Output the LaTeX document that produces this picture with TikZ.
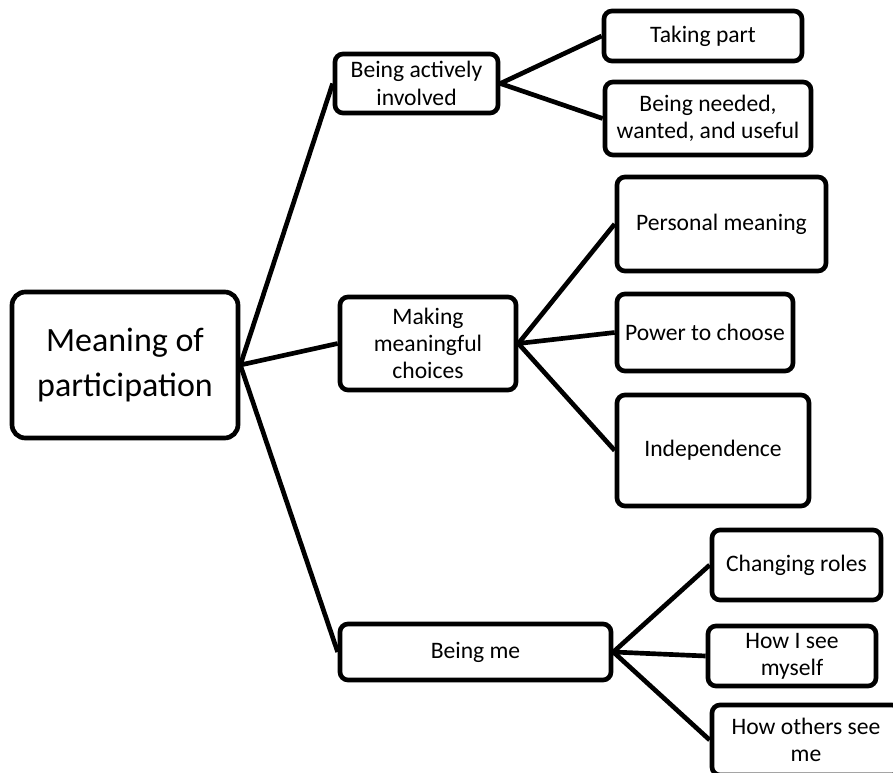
\documentclass[tikz,border=0pt]{standalone}
\usepackage{fontspec}
\setmainfont{Carlito}
\begin{document}
\begin{tikzpicture}[x=0.75pt,y=-0.75pt,
  box/.style={draw=black, line width=3.5pt, rounded corners=6pt, align=center,
    inner sep=0pt, fill=white, font=\fontsize{17.7}{20.5}\selectfont},
  rootbox/.style={box, rounded corners=10pt, font=\fontsize{25.5}{33.75}\selectfont},
  link/.style={draw=black, line width=3.5pt}]
\useasboundingbox (0,0) rectangle (893,773);
\clip (0,0) rectangle (893,773);

\node[rootbox, minimum width=169.5pt, minimum height=109.5pt] (root) at (125,365) {Meaning of\\participation};

\node[box, minimum width=122.25pt, minimum height=44.25pt] (a) at (416.5,83.5) {Being actively\\involved};
\node[box, minimum width=148.5pt, minimum height=37.5pt] (a1) at (703,36) {Taking part};
\node[box, minimum width=154.5pt, minimum height=54.75pt] (a2) at (708,118.5) {Being needed,\\wanted, and useful};

\node[box, minimum width=132pt, minimum height=69.75pt] (b) at (428,343.5) {Making\\meaningful\\choices};
\node[box, minimum width=156.75pt, minimum height=70.5pt] (b1) at (721.5,224) {Personal meaning};
\node[box, minimum width=132pt, minimum height=57.75pt] (b2) at (705,332.5) {Power to choose};
\node[box, minimum width=144pt, minimum height=83.25pt] (b3) at (713,450.5) {Independence};

\node[box, minimum width=203.25pt, minimum height=42pt] (c) at (475.5,652) {Being me};
\node[box, minimum width=126.75pt, minimum height=52.5pt] (c1) at (796.5,565) {Changing roles};
\node[box, minimum width=126pt, minimum height=45pt] (c2) at (792,656) {How I see\\myself};
\node[box, minimum width=141pt, minimum height=52.5pt] (c3) at (806,740) {How others see\\me};

\draw[link] (root.east) -- (a.west);
\draw[link] (root.east) -- (b.west);
\draw[link] (root.east) -- (c.west);
\draw[link] (a.east) -- (a1.west);
\draw[link] (a.east) -- (a2.west);
\draw[link] (b.east) -- (b1.west);
\draw[link] (b.east) -- (b2.west);
\draw[link] (b.east) -- (b3.west);
\draw[link] (c.east) -- (c1.west);
\draw[link] (c.east) -- (c2.west);
\draw[link] (c.east) -- (c3.west);
\end{tikzpicture}
\end{document}
